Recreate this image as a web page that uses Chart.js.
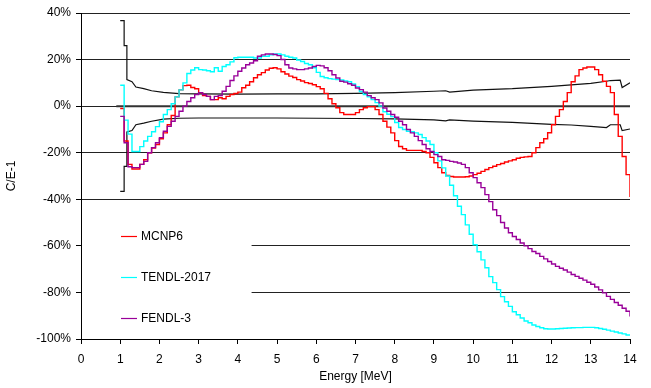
<!DOCTYPE html>
<html>
<head>
<meta charset="utf-8">
<script src="https://cdn.jsdelivr.net/npm/chart.js@4.4.0/dist/chart.umd.min.js"></script>
<style>
  body { margin: 0; background: #fff; }
</style>
</head>
<body>
<canvas id="myChart" width="651" height="388"></canvas>
<script>
// C/E-1 in %, one value per 0.1 MeV bin starting at 1.0 MeV,
// the last entry closes the histogram at 14 MeV
const binStart = 1.0;
const binWidth = 0.1;

const mcnp6 = [
    -1, -15, -25, -27, -27, -25, -23, -20, -18, -16.5,
    -14, -11.5, -8, -4, 4, 7, 8.8, 9, 8, 7.5,
    5.8, 4.5, 4.2, 2.8, 2.8, 3.6, 3.2, 4.2, 5, 5.4,
    6, 7.9, 9, 10.5, 12.2, 13.5, 14.4, 15.5, 16.3, 16.5,
    16, 14.8, 13.8, 12.9, 12.3, 11.4, 10.8, 10.1, 9.7, 9.2,
    8.4, 7.5, 5.5, 3.2, 1, -0.7, -2.8, -3.6, -3.6, -3.6,
    -2.8, -1.5, -0.7, -0.2, -0.2, -1.5, -3.6, -6.5, -9, -11.5,
    -14.8, -17.3, -18.3, -19, -19, -19, -19, -19.5, -20, -22,
    -24.3, -26.4, -28.6, -29.8, -30.2, -30.4, -30.4, -30.4, -30.3, -30,
    -29.4, -28.8, -28, -27.2, -26.4, -25.8, -25.1, -24.6, -24, -23.5,
    -23, -22.4, -22, -21.8, -21.6, -20, -17.8, -15.7, -14, -11.4,
    -8, -4.4, -1.5, 2, 5.8, 10.5, 13, 15.7, 16.4, 16.8,
    16.8, 15.7, 13.5, 10.7, 8.5, 5.8, -3.6, -13, -21.6, -29.4,
    -39
];

const tendl2017 = [
    9, -6, -12, -19.5, -19.5, -17.4, -15, -13, -11, -8.8,
    -6.7, -3.6, -1.5, 1, 4, 7, 10, 14, 15.5, 16.5,
    15.7, 15.5, 15.2, 14.8, 16.5, 15, 17, 17.8, 19, 20.8,
    21, 21, 21, 21, 20.7, 20.7, 21.4, 21.4, 22, 22.4,
    22.4, 22, 21.4, 21, 20.7, 19.8, 19.2, 18.3, 17.8, 16.5,
    14.5, 12.7, 12.2, 11.8, 11.6, 11.4, 11.2, 10.8, 10.5, 9.5,
    8.4, 6.3, 5, 4, 2.8, 1.5, 0, -2.4, -3.5, -4.5,
    -7, -9.2, -10, -10.8, -11, -11.5, -12.2, -13.5, -15, -16.5,
    -20, -23.5, -26.5, -30, -34, -38.5, -43, -46.6, -51, -55,
    -59.5, -62.5, -66, -69.4, -73.2, -75.8, -78.8, -81.8, -84, -86,
    -88.3, -89.6, -91, -92.3, -93, -94, -94.6, -95.2, -95.6, -95.7,
    -95.7, -95.6, -95.5, -95.4, -95.3, -95.2, -95.1, -95.1, -95, -95,
    -95, -95.2, -95.5, -95.8, -96.2, -96.6, -97, -97.4, -97.8, -98.3,
    -98.6
];

const fendl3 = [
    -4.4, -15.7, -26, -26.4, -26.4, -25, -23.7, -20, -17.8, -15.7,
    -13.5, -10.8, -8.7, -6.5, -4.4, -2.2, 0, 2, 3.6, 5,
    5.8, 5, 4.2, 2.8, 4.2, 4.5, 6.4, 8.5, 11, 13,
    15, 16.4, 17.8, 18.5, 19.5, 21.4, 22, 22.4, 22.4, 22.2,
    21.7, 20, 17.8, 16.4, 16, 15.7, 15.7, 16, 16.4, 17,
    17.5, 17.3, 16.5, 15.2, 13.5, 12.1, 10.7, 10.3, 9.6, 9,
    7.8, 7.1, 6, 4.5, 3.6, 2.8, 1.4, -0.8, -2.2, -3.6,
    -4.8, -6.5, -8, -10, -11.5, -13, -14.8, -16.5, -18.3, -19.5,
    -20.8, -21.6, -23, -23.3, -23.7, -24, -24.4, -25, -26.4, -28.6,
    -30.7, -32.9, -35, -38, -41, -44.5, -47, -50, -52.3, -54.4,
    -56, -57.3, -58.8, -60, -61.2, -62.4, -63.3, -64.5, -65.6, -66.7,
    -67.8, -68.8, -69.6, -70.4, -71.3, -72.3, -73.1, -73.9, -74.7, -75.6,
    -76.5, -77.7, -78.9, -80.2, -81.7, -83, -84.3, -85.5, -86.8, -88.1,
    -90.3
];

// experimental uncertainty band (+/-)
const bandE  = [1.0, 1.1, 1.1, 1.17, 1.17, 1.3, 1.4, 1.6, 1.8, 2.1, 2.5, 3.0, 4.0, 5.0, 6.0, 7.0, 8.0, 9.0, 9.3, 9.4, 10.0, 11.0, 12.0, 12.5, 13.0, 13.4, 13.5, 13.75, 13.8, 14.0];
const bandHi = [36.7, 36.7, 26, 26, 11.4, 10.5, 8.2, 7.5, 6.6, 5.9, 5.4, 5.3, 5.2, 5.3, 5.3, 5.5, 5.8, 6.4, 6.6, 6.0, 6.9, 7.5, 8.5, 9.1, 9.8, 10.7, 11.0, 11.2, 8.0, 10.0];
const bandLo = [-36.6, -36.6, -25.9, -25.9, -11.1, -10.5, -8, -7.3, -6.5, -5.6, -5.2, -5.1, -5.1, -5.1, -5.2, -5.3, -5.5, -5.9, -6.3, -5.9, -6.4, -7.0, -7.8, -8.1, -8.7, -9.2, -8.0, -8.0, -10.5, -9.8];

const legendNames  = ['MCNP6', 'TENDL-2017', 'FENDL-3'];
const legendColors = ['#ff0000', '#00ffff', '#990099'];

const energy = mcnp6.map((v, i) => +(binStart + i * binWidth).toFixed(1));
const toXY = (xs, ys) => xs.map((x, i) => ({ x: x, y: ys[i] }));

Chart.defaults.font.family = "'Liberation Sans', Arial, sans-serif";
Chart.defaults.font.size = 12;
Chart.defaults.color = '#000';

// legend sits inside the plot, on a white patch over the lower left grid lines
const insideLegend = {
    id: 'insideLegend',
    beforeDatasetsDraw(chart) {
        const ctx = chart.ctx, xs = chart.scales.x, ys = chart.scales.y;
        const top = ys.getPixelForValue(-45);
        const bottom = ys.getPixelForValue(-100) - 1;
        ctx.save();
        ctx.fillStyle = '#fff';
        ctx.fillRect(xs.left + 1, top, xs.getPixelForValue(4.35) - xs.left - 1, bottom - top);
        ctx.restore();
    },
    afterDatasetsDraw(chart) {
        const ctx = chart.ctx, xs = chart.scales.x, ys = chart.scales.y;
        const rows = [-55.8, -73.4, -91.0];
        ctx.save();
        ctx.font = "12px 'Liberation Sans', Arial, sans-serif";
        ctx.textBaseline = 'middle';
        legendNames.forEach((name, i) => {
            const y = Math.round(ys.getPixelForValue(rows[i])) + 0.5;
            ctx.strokeStyle = legendColors[i];
            ctx.lineWidth = 1.2;
            ctx.beginPath();
            ctx.moveTo(xs.left + 40, y);
            ctx.lineTo(xs.left + 56, y);
            ctx.stroke();
            ctx.fillStyle = '#000';
            ctx.fillText(name, xs.left + 60, y);
        });
        ctx.restore();
    }
};

const ctx = document.getElementById('myChart').getContext('2d');
const chart = new Chart(ctx, {
    type: 'line',
    data: {
        datasets: [
            {
                label: 'zero',
                data: toXY([0.9, 14], [0, 0]),
                borderColor: '#333',
                borderWidth: 2,
                order: 10
            },
            {
                label: 'unc+',
                data: toXY(bandE, bandHi),
                borderColor: '#111',
                borderWidth: 1.2,
                order: 5
            },
            {
                label: 'unc-',
                data: toXY(bandE, bandLo),
                borderColor: '#111',
                borderWidth: 1.2,
                order: 5
            },
            {
                label: legendNames[0],
                data: toXY(energy, mcnp6),
                borderColor: legendColors[0],
                borderWidth: 1.4,
                stepped: 'before',
                order: 3
            },
            {
                label: legendNames[1],
                data: toXY(energy, tendl2017),
                borderColor: legendColors[1],
                borderWidth: 1.4,
                stepped: 'before',
                order: 2
            },
            {
                label: legendNames[2],
                data: toXY(energy, fendl3),
                borderColor: legendColors[2],
                borderWidth: 1.4,
                stepped: 'before',
                order: 1
            }
        ]
    },
    options: {
        responsive: false,
        animation: false,
        parsing: false,
        elements: {
            point: { radius: 0 },
            line: { tension: 0, fill: false }
        },
        layout: { padding: { top: 13, right: 21, bottom: 0, left: 0 } },
        plugins: {
            legend: { display: false },
            tooltip: { enabled: false }
        },
        scales: {
            x: {
                type: 'linear',
                min: 0,
                max: 14,
                ticks: { stepSize: 1, padding: 8, color: '#000' },
                grid: { drawOnChartArea: false, drawTicks: true, tickLength: 5, tickColor: '#000' },
                border: { color: '#000', width: 1 },
                title: { display: true, text: 'Energy [MeV]', color: '#000', padding: { top: 0, bottom: 4 } },
                afterFit: scale => { scale.height = 49; }
            },
            y: {
                type: 'linear',
                min: -100,
                max: 40,
                ticks: { stepSize: 20, padding: 5, color: '#000', callback: v => v + '%' },
                grid: { color: '#222', lineWidth: 1, tickLength: 5, tickColor: '#000' },
                border: { color: '#000', width: 1 },
                title: { display: true, text: 'C/E-1', color: '#000' },
                afterFit: scale => { scale.width = 81; }
            }
        }
    },
    plugins: [insideLegend]
});
</script>
</body>
</html>
